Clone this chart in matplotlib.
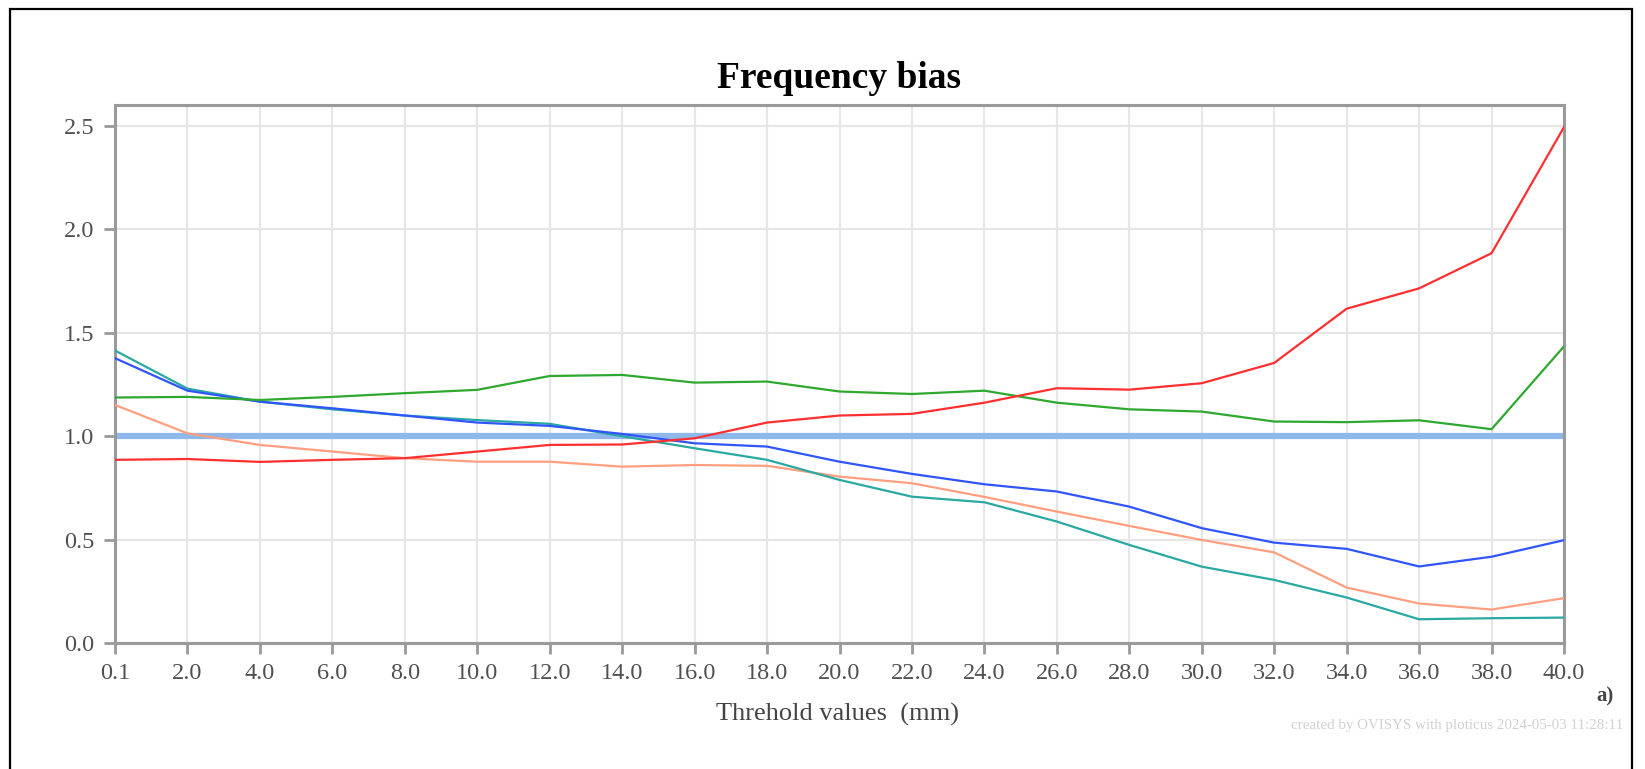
import matplotlib
matplotlib.use('Agg')
import matplotlib.pyplot as plt
from matplotlib.patches import Rectangle

# threshold categories (mm)
thresholds = ['0.1', '2.0', '4.0', '6.0', '8.0', '10.0', '12.0', '14.0', '16.0', '18.0', '20.0',
              '22.0', '24.0', '26.0', '28.0', '30.0', '32.0', '34.0', '36.0', '38.0', '40.0']

# frequency bias values
bias_red = [0.886, 0.89, 0.876, 0.886, 0.894, 0.926, 0.958, 0.96, 0.99, 1.066, 1.10,
            1.108, 1.162, 1.232, 1.225, 1.256, 1.354, 1.616, 1.714, 1.884, 2.493]
bias_green = [1.187, 1.19, 1.175, 1.19, 1.208, 1.224, 1.291, 1.296, 1.259, 1.264, 1.216,
              1.204, 1.22, 1.162, 1.13, 1.119, 1.071, 1.068, 1.077, 1.034, 1.434]
bias_blue = [1.377, 1.22, 1.167, 1.135, 1.10, 1.066, 1.05, 1.011, 0.966, 0.95, 0.877,
             0.818, 0.768, 0.733, 0.66, 0.556, 0.486, 0.456, 0.371, 0.418, 0.498]
bias_salmon = [1.151, 1.014, 0.958, 0.926, 0.894, 0.877, 0.877, 0.853, 0.861, 0.857, 0.805,
               0.773, 0.707, 0.636, 0.567, 0.499, 0.439, 0.269, 0.192, 0.163, 0.218]
bias_teal = [1.414, 1.23, 1.167, 1.13, 1.10, 1.078, 1.06, 1.00, 0.942, 0.886, 0.789,
             0.708, 0.681, 0.588, 0.475, 0.37, 0.306, 0.221, 0.116, 0.121, 0.124]
perfect_bias = 1.0
yticks = [0.0, 0.5, 1.0, 1.5, 2.0, 2.5]

plt.rcParams['font.family'] = ['Liberation Serif', 'DejaVu Serif']

fig = plt.figure(figsize=(16.45, 7.69), dpi=100)
ax = fig.add_axes([115 / 1645, 0.1635, 1449 / 1645, 0.7000])

x = list(range(len(thresholds)))
ax.axhline(perfect_bias, color='#8fb8ea', lw=4.5, zorder=2)
ax.plot(x, bias_salmon, color='#ff9f80', lw=1.6, zorder=3)
ax.plot(x, bias_teal, color='#2aa8a2', lw=1.6, zorder=3)
ax.plot(x, bias_blue, color='#2f55ff', lw=1.6, zorder=3)
ax.plot(x, bias_green, color='#2fa82f', lw=1.6, zorder=3)
ax.plot(x, bias_red, color='#ff2f2f', lw=1.6, zorder=3)

ax.set_xlim(0, len(thresholds) - 1)
ax.set_ylim(0, 2.6)
ax.set_xticks(x)
ax.set_xticklabels(thresholds)
ax.set_yticks(yticks)
ax.set_yticklabels(['%.1f' % v for v in yticks])
ax.grid(True, color='#e6e6e6', lw=1.6, zorder=0)
ax.set_axisbelow(True)
for s in ax.spines.values():
    s.set_color('#9a9a9a')
    s.set_linewidth(2.2)
ax.tick_params(colors='#9a9a9a', labelcolor='#505050', labelsize=17.5, length=8, width=2)
ax.tick_params(axis='x', pad=6)
ax.tick_params(axis='y', pad=7)

fig.text(839 / 1645, 1 - 88 / 769, 'Frequency bias', fontsize=27, fontweight='bold',
         ha='center', va='baseline')
fig.text(837 / 1645, 1 - 721 / 769, 'Threhold values  (mm)', fontsize=19, color='#444444',
         ha='center', va='baseline')

fig.text(0.9757, 0.094, 'a)', fontsize=15, fontweight='bold', color='#444444', ha='center', va='center')
fig.text(0.9866, 0.057, 'created by OVISYS with ploticus 2024-05-03 11:28:11',
         fontsize=10.8, color='#d0d0d0', ha='right', va='center')

# outer frame of the picture
fig.patches.append(Rectangle((10 / 1645, -0.05), 1622 / 1645, 1.05 - 9 / 769,
                             transform=fig.transFigure, fill=False, ec='black', lw=1.6))

fig.savefig('out.png', dpi=100)
